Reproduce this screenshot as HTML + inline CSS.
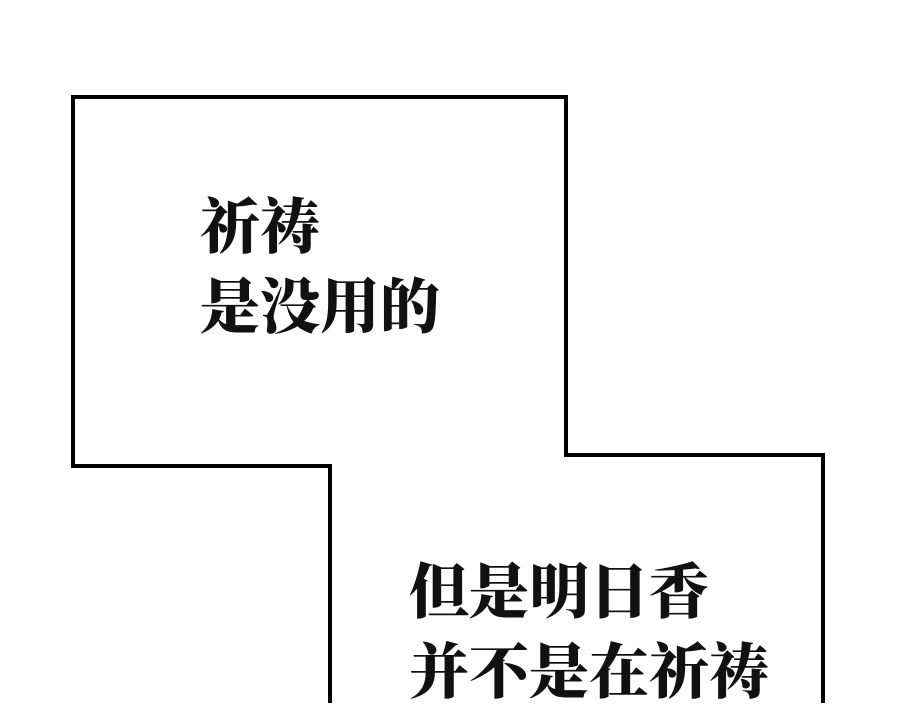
<!DOCTYPE html>
<html><head><meta charset="utf-8"><style>
html,body{margin:0;padding:0;background:#fff;}
body{width:900px;height:703px;position:relative;overflow:hidden;}
.t{position:absolute;font-family:"Liberation Sans","Noto Serif CJK SC","Noto Sans CJK SC",serif;font-weight:900;font-size:60px;line-height:80px;color:#111;white-space:nowrap;}
</style></head><body>
<svg width="900" height="703" style="position:absolute;left:0;top:0">
<polyline points="330,710 330,466 73,466 73,97 566,97 566,455 823,455 823,710" fill="none" stroke="#000" stroke-width="4"/>
</svg>
<div class="t" style="left:200px;top:188px;">祈祷<br>是没用的</div>
<div class="t" style="left:409px;top:553px;">但是明日香<br>并不是在祈祷</div>
</body></html>
